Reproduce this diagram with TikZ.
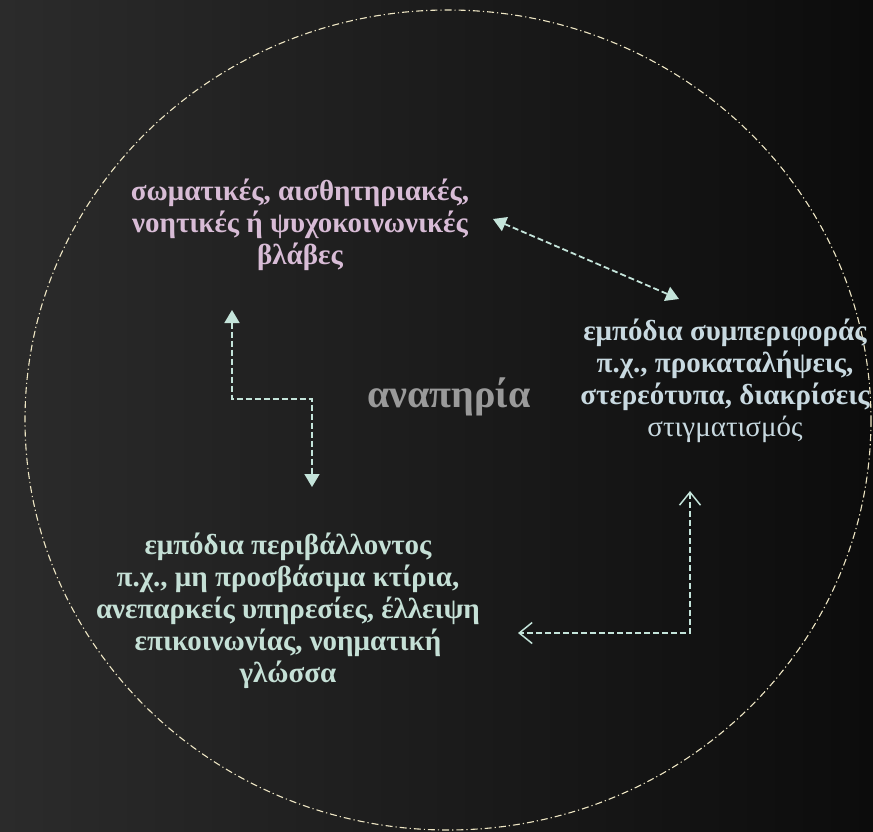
\documentclass[tikz,border=0pt]{standalone}
\usepackage{fontspec}
\setmainfont{Liberation Serif}
\usetikzlibrary{arrows.meta}
\definecolor{bgL}{HTML}{2B2B2B}
\definecolor{bgM}{HTML}{1C1E1E}
\definecolor{bgR}{HTML}{0C0C0C}
\definecolor{ringc}{HTML}{EEE6C4}
\definecolor{pinkc}{HTML}{D8BCD6}
\definecolor{bluec}{HTML}{C8D9E0}
\definecolor{mintc}{HTML}{C5E0D6}
\definecolor{arrc}{HTML}{C4E4DA}
\definecolor{grayc}{HTML}{9A9A9A}
\tikzset{
  lbl/.style={align=center, inner sep=0pt, font=\fontsize{29}{32}\selectfont\bfseries},
  conn/.style={draw=arrc, line width=1.8pt, dash pattern=on 6pt off 3pt},
  filledtips/.style={{Triangle[length=13pt,width=15pt]}-{Triangle[length=13pt,width=15pt]}},
  opentips/.style={{Straight Barb[length=13pt,width=21pt,line width=1.5pt]}-{Straight Barb[length=13pt,width=21pt,line width=1.5pt]}},
}
\begin{document}
\begin{tikzpicture}[x=1pt,y=-1pt]
\shade[left color=bgL,middle color=bgM,right color=bgR] (0,0) rectangle (873,832);
\useasboundingbox (0,0) rectangle (873,832);
\draw[ringc, line width=1.1pt, dash pattern=on 7pt off 3pt on 1.2pt off 3pt] (448,420) ellipse [x radius=423, y radius=410];

\node[lbl, text=pinkc] (imp) at (300,225) {σωματικές, αισθητηριακές,\\ νοητικές ή ψυχοκοινωνικές\\ βλάβες};
\node[lbl, text=bluec] (beh) at (725,381) {εμπόδια συμπεριφοράς\\ π.χ., προκαταλήψεις,\\ στερεότυπα, διακρίσεις\\ {\mdseries στιγματισμός}};
\node[lbl, text=mintc] (env) at (288,611) {εμπόδια περιβάλλοντος\\ π.χ., μη προσβάσιμα κτίρια,\\ ανεπαρκείς υπηρεσίες, έλλειψη\\ επικοινωνίας, νοηματική\\ γλώσσα};
\node[inner sep=0pt, text=grayc, font=\fontsize{40}{44}\selectfont\bfseries] (dis) at (449,397) {αναπηρία};

\coordinate (a1) at (493,219);
\coordinate (a2) at (679,299);
\coordinate (b1) at (232,310);
\coordinate (b2) at (312,487);
\coordinate (c1) at (690,491);
\coordinate (c2) at (518,633);

\draw[conn, filledtips] (a1) -- (a2);
\draw[conn, filledtips] (b1) -- (232,399) -- (312,399) -- (b2);
\draw[conn, opentips] (c1) -- (690,633) -- (c2);
\end{tikzpicture}
\end{document}
